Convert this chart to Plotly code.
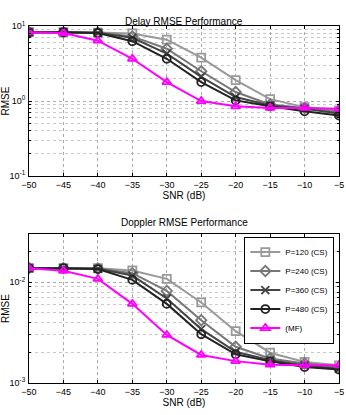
import plotly.graph_objects as go

snr = [-50, -45, -40, -35, -30, -25, -20, -15, -10, -5]
snr_labels = ["\u221250", "\u221245", "\u221240", "\u221235", "\u221230",
              "\u221225", "\u221220", "\u221215", "\u221210", "\u22125"]
names = ["P=120 (CS)", "P=240 (CS)", "P=360 (CS)", "P=480 (CS)", "(MF)"]

delay_p120 = [8.3, 8.3, 8.2, 8.0, 6.6, 3.8, 1.9, 1.06, 0.83, 0.75]
delay_p240 = [8.3, 8.3, 8.2, 7.3, 5.0, 2.5, 1.32, 0.9, 0.81, 0.71]
delay_p360 = [8.3, 8.3, 8.1, 7.0, 4.3, 2.1, 1.13, 0.875, 0.79, 0.68]
delay_p480 = [8.3, 8.3, 8.1, 6.3, 3.67, 1.79, 1.02, 0.85, 0.73, 0.64]
delay_mf = [8.3, 8.1, 6.4, 3.67, 1.79, 1.0, 0.85, 0.81, 0.81, 0.79]

dop_p120 = [0.0138, 0.0138, 0.0138, 0.0131, 0.0108, 0.0063, 0.00327, 0.0020, 0.00162, 0.0015]
dop_p240 = [0.0138, 0.0138, 0.0137, 0.0123, 0.0082, 0.0042, 0.00229, 0.00175, 0.00156, 0.00144]
dop_p360 = [0.0138, 0.0138, 0.0136, 0.01165, 0.0069, 0.00343, 0.00204, 0.00168, 0.0015, 0.00139]
dop_p480 = [0.0138, 0.0138, 0.0135, 0.01055, 0.0061, 0.00305, 0.00193, 0.00164, 0.00144, 0.00136]
dop_mf = [0.0138, 0.0130, 0.0108, 0.0061, 0.0030, 0.0019, 0.00165, 0.00152, 0.0015, 0.0015]

colors = ["#999999", "#777777", "#444444", "#222222", "#ff00ff"]
symbols = ["square-open", "diamond-open", "x-thin-open", "circle-open", "triangle-up-open"]

delay = [delay_p120, delay_p240, delay_p360, delay_p480, delay_mf]
dop = [dop_p120, dop_p240, dop_p360, dop_p480, dop_mf]

fig = go.Figure()
for i in range(5):
    fig.add_trace(go.Scatter(x=snr, y=delay[i], name=names[i], mode="lines+markers",
                             line=dict(color=colors[i], width=2),
                             marker=dict(symbol=symbols[i], size=8, color=colors[i],
                                         line=dict(width=1.8, color=colors[i])),
                             xaxis="x", yaxis="y", showlegend=False))
for i in range(5):
    fig.add_trace(go.Scatter(x=snr, y=dop[i], name=names[i], mode="lines+markers",
                             line=dict(color=colors[i], width=2),
                             marker=dict(symbol=symbols[i], size=8, color=colors[i],
                                         line=dict(width=1.8, color=colors[i])),
                             xaxis="x2", yaxis="y2", showlegend=True))

FAM = "Liberation Sans, Arial, sans-serif"
font = dict(family=FAM, size=9, color="black")


def minor_vals(lo, hi):
    vals = []
    for e in range(lo, hi):
        for m in range(2, 10):
            vals.append(m * 10 ** e)
    return vals


xcommon = dict(range=[-50, -5], tickvals=snr, ticktext=snr_labels,
               showline=True, linecolor="black", linewidth=1, mirror="ticks",
               ticks="inside", ticklen=3, tickcolor="black",
               showgrid=True, gridcolor="#aaaaaa", griddash="dot", gridwidth=1,
               zeroline=False, tickfont=font,
               title=dict(text="SNR (dB)", font=dict(family=FAM, size=10), standoff=3))

ycommon = dict(type="log", showline=True, linecolor="black", linewidth=1, mirror="ticks",
               ticks="inside", ticklen=3, tickcolor="black",
               showgrid=True, gridcolor="#aaaaaa", griddash="dot",
               tickfont=font, ticklabelstandoff=1,
               title=dict(text="RMSE", font=dict(family=FAM, size=10), standoff=2))

fig.update_layout(
    width=346, height=415,
    margin=dict(l=29, r=7, t=0, b=0, autoexpand=False),
    paper_bgcolor="white", plot_bgcolor="white",
    font=font,
    xaxis=dict(domain=[0, 1], anchor="y", **xcommon),
    xaxis2=dict(domain=[0, 1], anchor="y2", **xcommon),
    yaxis=dict(domain=[0.576, 0.937], range=[-1, 1], anchor="x",
               tickvals=[0.1, 1, 10], ticktext=["10<sup>-1</sup>", "10<sup>0</sup>", "10<sup>1</sup>"],
               minor=dict(tickvals=minor_vals(-1, 1), showgrid=True, gridcolor="#c8c8c8",
                          griddash="dot", ticks="inside", ticklen=2, tickcolor="black"),
               **ycommon),
    yaxis2=dict(domain=[0.077, 0.436], range=[-3, -1.522], anchor="x2",
                tickvals=[0.001, 0.01], ticktext=["10<sup>-3</sup>", "10<sup>-2</sup>"],
                minor=dict(tickvals=minor_vals(-3, -1), showgrid=True, gridcolor="#c8c8c8",
                           griddash="dot", ticks="inside", ticklen=2, tickcolor="black"),
                **ycommon),
    legend=dict(x=0.985, y=0.43, xanchor="right", yanchor="top",
                bgcolor="white", bordercolor="black", borderwidth=1,
                font=dict(family=FAM, size=8), tracegroupgap=0,
                itemwidth=30),
    annotations=[
        dict(text="Delay RMSE Performance", x=0.5, y=1 - 14 / 415, xref="paper", yref="paper",
             showarrow=False, font=dict(family=FAM, size=10)),
        dict(text="Doppler RMSE Performance", x=0.5, y=1 - 222 / 415, xref="paper", yref="paper",
             showarrow=False, font=dict(family=FAM, size=10)),
    ],
)

fig.write_html("out.html", config={"displayModeBar": False},
               post_script="document.body.style.margin='0';document.body.style.overflow='hidden';")
